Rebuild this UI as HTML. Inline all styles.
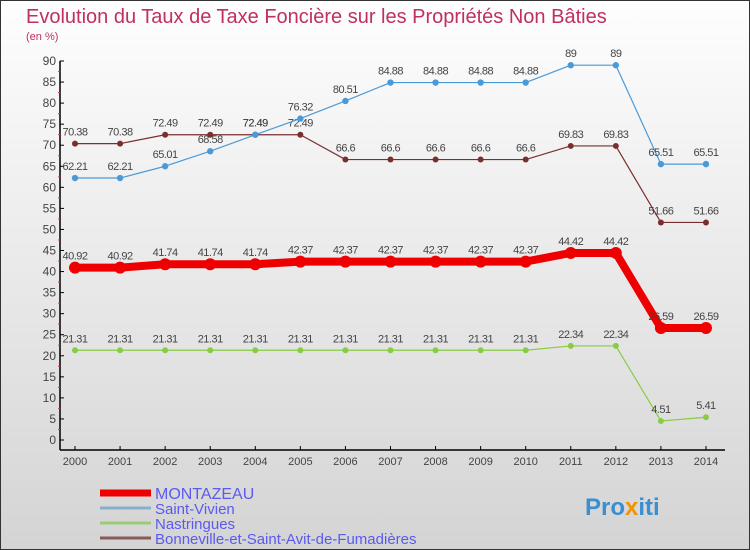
<!DOCTYPE html>
<html><head><meta charset="utf-8"><style>
body{margin:0}
svg{display:block;font-family:"Liberation Sans",sans-serif}
</style></head><body>
<svg width="750" height="550">
<defs><linearGradient id="bg" x1="0" y1="0" x2="0" y2="1"><stop offset="0" stop-color="#fefefe"/><stop offset="1" stop-color="#d4d4d4"/></linearGradient></defs>
<rect x="0.5" y="0.5" width="749" height="549" fill="url(#bg)" stroke="#333"/>
<text x="26" y="23" font-size="20" fill="#c0305e">Evolution du Taux de Taxe Foncière sur les Propriétés Non Bâties</text>
<text x="26" y="40" font-size="11" fill="#c0305e">(en %)</text>
<g id="axes"></g>
<g id="series"></g>
<g id="legend"></g>
<text x="585" y="515" font-size="24" font-weight="bold" fill="#3a8fd0">Pro<tspan fill="#f29400">x</tspan>iti</text>
</svg>
<script>
const years=[2000,2001,2002,2003,2004,2005,2006,2007,2008,2009,2010,2011,2012,2013,2014];
const montazeau=[40.92,40.92,41.74,41.74,41.74,42.37,42.37,42.37,42.37,42.37,42.37,44.42,44.42,26.59,26.59];
const saintVivien=[62.21,62.21,65.01,68.58,72.49,76.32,80.51,84.88,84.88,84.88,84.88,89,89,65.51,65.51];
const nastringues=[21.31,21.31,21.31,21.31,21.31,21.31,21.31,21.31,21.31,21.31,21.31,22.34,22.34,4.51,5.41];
const bonneville=[70.38,70.38,72.49,72.49,72.49,72.49,66.6,66.6,66.6,66.6,66.6,69.83,69.83,51.66,51.66];
const yTicks=[0,5,10,15,20,25,30,35,40,45,50,55,60,65,70,75,80,85,90];
const NS="http://www.w3.org/2000/svg";
function X(i){return 75+i*45.07;}
function Y(v){return 440-v*(379/90);}
function mk(tag,attrs,parent,txt){const e=document.createElementNS(NS,tag);for(const k in attrs)e.setAttribute(k,attrs[k]);if(txt!==undefined)e.textContent=txt;parent.appendChild(e);return e;}
const ax=document.getElementById('axes');
let e=mk('line',{x1:60,y1:Y(90),x2:60,y2:450,stroke:'#000','stroke-width':1.5},ax);


e=mk('line',{x1:60,y1:450,x2:725,y2:450,stroke:'#000','stroke-width':1.5},ax);


yTicks.forEach(v=>{
 mk('line',{x1:60,y1:Y(v),x2:64,y2:Y(v),stroke:'#000'},ax);
 if(v<90) mk('line',{x1:58,y1:Y(v+2.5),x2:60,y2:Y(v+2.5),stroke:'#e33'},ax);
 const t=mk('text',{x:56,y:Y(v)+4,'font-size':12,fill:'#444','text-anchor':'end'},ax,v);
 
 
});
years.forEach((yr,i)=>{
 mk('line',{x1:X(i),y1:446,x2:X(i),y2:450,stroke:'#000'},ax);
 const t=mk('text',{x:X(i),y:465,'font-size':11,fill:'#444','text-anchor':'middle'},ax,yr);
 
 
});
const sg=document.getElementById('series');
function draw(vals,color,w,r,name){
 const g=mk('g',{},sg);
 
 
 mk('polyline',{points:vals.map((v,i)=>X(i)+','+Y(v)).join(' '),fill:'none',stroke:color,'stroke-width':w,'stroke-linejoin':'round'},g);
 vals.forEach((v,i)=>{
  const c=mk('circle',{cx:X(i),cy:Y(v),r:r,fill:color},g);
  
  
  const t=mk('text',{x:X(i),y:Y(v)-8,'font-size':11,fill:'#444','text-anchor':'middle','letter-spacing':'-0.5'},g,String(v));
  
  
 });
}
draw(nastringues,'#88cc44',1.2,3,'nastringues-series');
draw(bonneville,'#7a2f2f',1.2,3,'bonneville-series');
draw(saintVivien,'#4a9ad8',1.2,3.2,'saint-vivien-series');
draw(montazeau,'#ee0000',8,6,'montazeau-series');
const lg=document.getElementById('legend');
const names=['MONTAZEAU','Saint-Vivien','Nastringues','Bonneville-et-Saint-Avit-de-Fumadières'];
const cols=['#ee0000','#88b0cc','#99cc77','#8a5a5a'];
const ws=[7,3,3,3];
names.forEach((n,i)=>{
 const y=[493,508,523,538][i];
 const g=mk('g',{},lg);
 
 
 mk('line',{x1:100,y1:y,x2:151,y2:y,stroke:cols[i],'stroke-width':ws[i]},g);
 mk('text',{x:155,y:y+6,'font-size':i==0?16:15,fill:'#5a5af0'},g,n);
});
</script>
</body></html>
